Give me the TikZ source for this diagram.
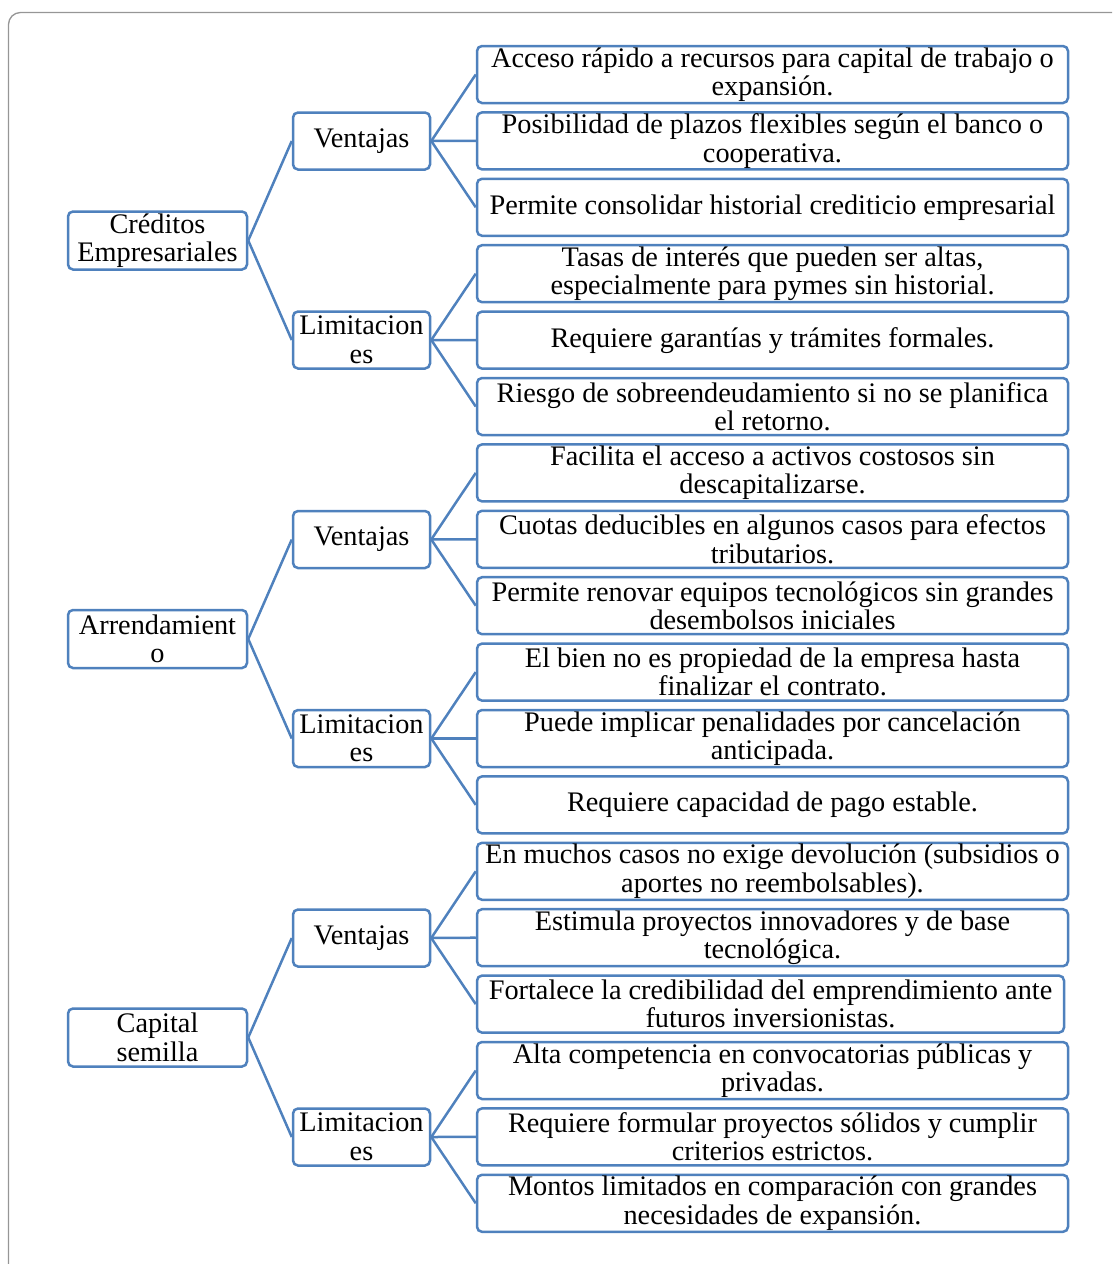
\documentclass[tikz,border=0pt]{standalone}
\usepackage{fontspec}
\setmainfont{Liberation Serif}
\begin{document}
\definecolor{boxblue}{RGB}{79,129,189}
\definecolor{framegray}{RGB}{150,150,150}
\begin{tikzpicture}[x=1pt,y=-1pt,
  every node/.style={font=\fontsize{28.3}{28.5}\selectfont, inner sep=0pt, align=center},
  box/.style={draw=boxblue, line width=2.5pt, rounded corners=5pt, fill=white},
  rootbox/.style={box, minimum width=179pt, minimum height=58pt},
  midbox/.style={box, minimum width=137pt, minimum height=57pt},
  leafbox/.style={box, minimum width=591pt, minimum height=57pt},
  link/.style={draw=boxblue, line width=2.5pt}
]
\useasboundingbox (0,0) rectangle (1112,1264);
\clip (0,0) rectangle (1112,1264);
% outer frame
\draw[framegray, line width=1.3pt, rounded corners=12pt] (8.5,12.5) rectangle (1140,1300);

% root nodes
\node[rootbox] (r1) at (157.5,240.5) {Créditos\\Empresariales};
\node[rootbox] (r2) at (157.5,639) {Arrendamient\\o};
\node[rootbox] (r3) at (157.5,1037.5) {Capital\\semilla};

% second level
\node[midbox] (m1) at (361.5,141) {Ventajas};
\node[midbox] (m2) at (361.5,340) {Limitacion\\es};
\node[midbox] (m3) at (361.5,539.5) {Ventajas};
\node[midbox] (m4) at (361.5,738.5) {Limitacion\\es};
\node[midbox] (m5) at (361.5,938) {Ventajas};
\node[midbox] (m6) at (361.5,1137) {Limitacion\\es};

% leaves
\node[leafbox] (l1)  at (772.5,74.5)   {Acceso rápido a recursos para capital de trabajo o\\expansión.};
\node[leafbox] (l2)  at (772.5,140.9)  {Posibilidad de plazos flexibles según el banco o\\cooperativa.};
\node[leafbox] (l3)  at (772.5,207.3)  {Permite consolidar historial crediticio empresarial};
\node[leafbox] (l4)  at (772.5,273.7)  {Tasas de interés que pueden ser altas,\\especialmente para pymes sin historial.};
\node[leafbox] (l5)  at (772.5,340.1)  {Requiere garantías y trámites formales.};
\node[leafbox] (l6)  at (772.5,406.5)  {Riesgo de sobreendeudamiento si no se planifica\\el retorno.};
\node[leafbox] (l7)  at (772.5,472.9)  {Facilita el acceso a activos costosos sin\\descapitalizarse.};
\node[leafbox] (l8)  at (772.5,539.3)  {Cuotas deducibles en algunos casos para efectos\\tributarios.};
\node[leafbox] (l9)  at (772.5,605.7)  {Permite renovar equipos tecnológicos sin grandes\\desembolsos iniciales};
\node[leafbox] (l10) at (772.5,672.1)  {El bien no es propiedad de la empresa hasta\\finalizar el contrato.};
\node[leafbox] (l11) at (772.5,738.5)  {Puede implicar penalidades por cancelación\\anticipada.};
\node[leafbox] (l12) at (772.5,804.9)  {Requiere capacidad de pago estable.};
\node[leafbox] (l13) at (772.5,871.3)  {En muchos casos no exige devolución (subsidios o\\aportes no reembolsables).};
\node[leafbox] (l14) at (772.5,937.7)  {Estimula proyectos innovadores y de base\\tecnológica.};
\node[leafbox, minimum width=587pt] (l15) at (770.5,1004.1) {Fortalece la credibilidad del emprendimiento ante\\futuros inversionistas.};
\node[leafbox] (l16) at (772.5,1070.5) {Alta competencia en convocatorias públicas y\\privadas.};
\node[leafbox] (l17) at (772.5,1136.9) {Requiere formular proyectos sólidos y cumplir\\criterios estrictos.};
\node[leafbox] (l18) at (772.5,1203.3) {Montos limitados en comparación con grandes\\necesidades de expansión.};

% connectors: root to second level
\foreach \r/\a/\b in {r1/m1/m2, r2/m3/m4, r3/m5/m6} {
  \draw[link] (\r.east) -- (\a.west);
  \draw[link] (\r.east) -- (\b.west);
}
% connectors: second level to leaves
\foreach \m/\a/\b/\c in {m1/l1/l2/l3, m2/l4/l5/l6, m3/l7/l8/l9, m4/l10/l11/l12, m5/l13/l14/l15, m6/l16/l17/l18} {
  \draw[link] (\m.east) -- (\a.west);
  \draw[link] (\m.east) -- (\b.west);
  \draw[link] (\m.east) -- (\c.west);
}
\end{tikzpicture}
\end{document}
